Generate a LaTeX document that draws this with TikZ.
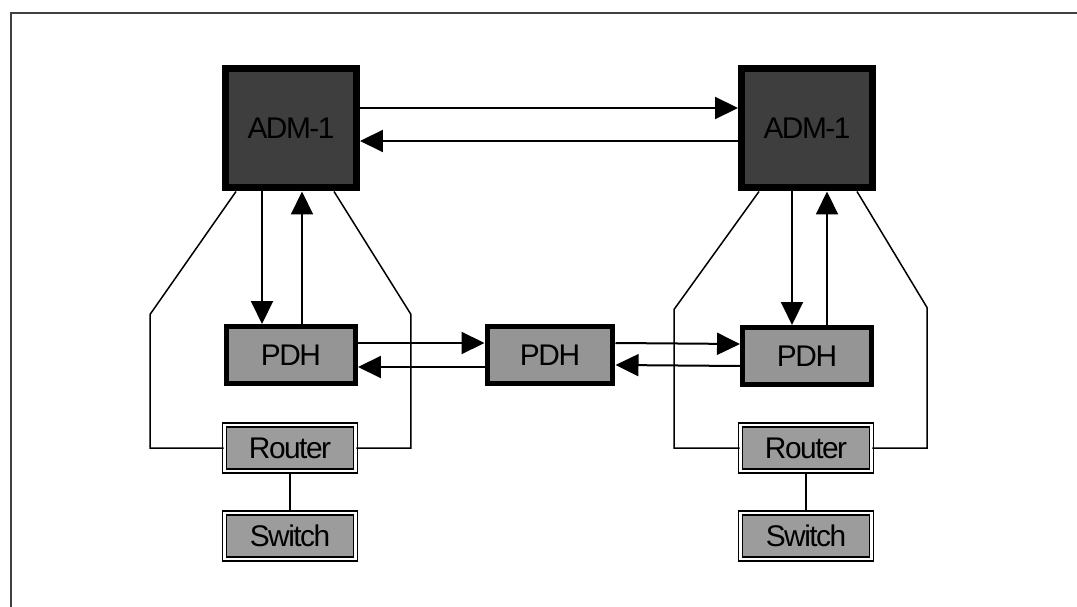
\documentclass[tikz,border=0pt]{standalone}
\usepackage{fontspec}
\setmainfont{Liberation Sans}[LetterSpace=-5]
\usepackage{xcolor}
\usetikzlibrary{positioning,calc,arrows.meta}

\definecolor{admgray}{HTML}{3E3E3E}
\definecolor{pdhgray}{HTML}{959595}
\definecolor{rtrgray}{HTML}{9C9C9C}

\begin{document}
\begin{tikzpicture}[x=0.02cm, y=-0.02cm,
    every node/.style={font=\fontsize{17}{20}\selectfont, inner sep=0pt},
    adm/.style={draw=black, line width=0.14cm, fill=admgray, text=black,
        minimum width=2.62cm, minimum height=2.4cm},
    pdh/.style={draw=black, line width=0.1cm, fill=pdhgray,
        minimum width=2.58cm, minimum height=1.14cm},
    dev/.style={draw=black, line width=0.035cm, double=white, double distance=0.045cm,
        fill=rtrgray, minimum width=2.62cm, minimum height=0.92cm},
    arr/.style={line width=0.04cm, -{Triangle[length=0.46cm, width=0.44cm]}},
    wire/.style={line width=0.03cm}]
    \useasboundingbox (0,0) rectangle (1077,607);

    % Frame
    \draw[line width=0.04cm, black!75] (11,607) -- (11,13) -- (1077,13);

    % ADMs
    \node[adm] (admL) at (291,128) {ADM-1};
    \node[adm] (admR) at (807,128) {ADM-1};

    % PDHs
    \node[pdh] (pdhL) at (291,355) {PDH};
    \node[pdh, minimum width=2.52cm] (pdhM) at (550,355) {PDH};
    \node[pdh] (pdhR) at (807,356) {PDH};

    % Routers and switches
    \node[dev] (rtrL) at (290,448) {Router};
    \node[dev] (swL) at (290,536) {Switch};
    \node[dev] (rtrR) at (806,448) {Router};
    \node[dev] (swR) at (806,536) {Switch};

    % ADM to ADM
    \draw[arr] ([yshift=0.4cm]admL.east) -- ([yshift=0.4cm]admR.west);
    \draw[arr] ([yshift=-0.26cm]admR.west) -- ([yshift=-0.26cm]admL.east);

    % ADM to PDH
    \draw[arr] ([xshift=-0.58cm]admL.south) -- ([xshift=-0.58cm]pdhL.north);
    \draw[arr] ([xshift=0.22cm]pdhL.north) -- ([xshift=0.22cm]admL.south);
    \draw[arr] ([xshift=-0.3cm]admR.south) -- ([xshift=-0.3cm]pdhR.north);
    \draw[arr] ([xshift=0.4cm]pdhR.north) -- ([xshift=0.4cm]admR.south);

    % PDH to PDH
    \draw[arr] ([yshift=0.24cm]pdhL.east) -- ([yshift=0.24cm]pdhM.west);
    \draw[arr] ([yshift=-0.24cm]pdhM.west) -- ([yshift=-0.24cm]pdhL.east);
    \draw[arr] ([yshift=0.24cm]pdhM.east) -- ([yshift=0.24cm]pdhR.west);
    \draw[arr] ([yshift=-0.2cm]pdhR.west) -- ([yshift=-0.2cm]pdhM.east);

    % ADM to router
    \draw[wire] ([xshift=-1.1cm]admL.south) -- ++(-86,123) |- (rtrL.west);
    \draw[wire] ([xshift=0.86cm]admL.south) -- ++(77,123) |- (rtrL.east);
    \draw[wire] ([xshift=-0.96cm]admR.south) -- ++(-85,118) |- (rtrR.west);
    \draw[wire] ([xshift=1.0cm]admR.south) -- ++(70,116) |- (rtrR.east);

    % Router to switch
    \draw[wire] (rtrL) -- (swL);
    \draw[wire] (rtrR) -- (swR);
\end{tikzpicture}
\end{document}
